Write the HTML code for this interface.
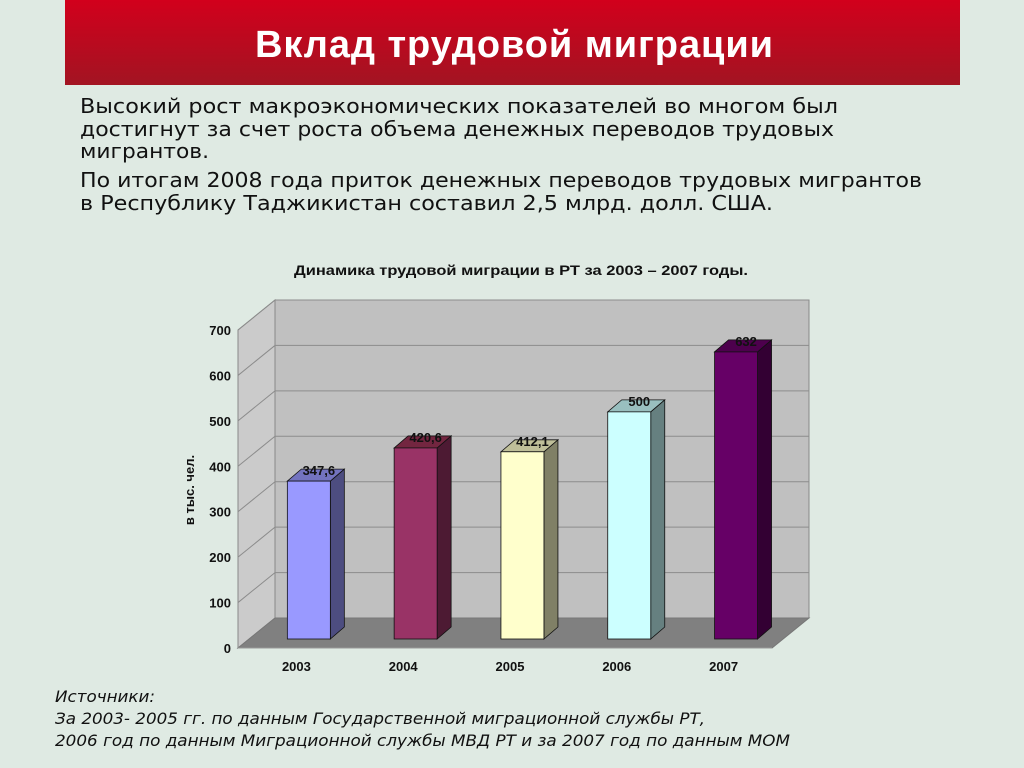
<!DOCTYPE html>
<html><head><meta charset="utf-8"><style>
html,body{margin:0;padding:0;background:#dfeae3}
svg{display:block}
</style></head><body>
<svg width="1024" height="768" viewBox="0 0 1024 768" xmlns="http://www.w3.org/2000/svg">
<defs><linearGradient id="hg" x1="0" y1="0" x2="0" y2="1"><stop offset="0" stop-color="#d2001c"/><stop offset="1" stop-color="#a21422"/></linearGradient></defs>
<rect width="1024" height="768" fill="#dfeae3"/>
<rect x="65" y="0" width="895" height="85" fill="url(#hg)"/>
<text x="514" y="57" text-anchor="middle" font-family="Liberation Sans, sans-serif" font-weight="bold" font-size="38" fill="#fff" textLength="518">Вклад трудовой миграции</text>
<g font-family="DejaVu Sans, Liberation Sans, sans-serif" font-size="20" fill="#111">
<text x="80" y="113" textLength="758" lengthAdjust="spacingAndGlyphs">Высокий рост макроэкономических показателей во многом был</text>
<text x="80" y="136" textLength="754" lengthAdjust="spacingAndGlyphs">достигнут за счет роста объема денежных переводов трудовых</text>
<text x="80" y="158" textLength="129" lengthAdjust="spacingAndGlyphs">мигрантов.</text>
<text x="80" y="187" textLength="842" lengthAdjust="spacingAndGlyphs">По итогам 2008 года приток денежных переводов трудовых мигрантов</text>
<text x="80" y="210" textLength="693" lengthAdjust="spacingAndGlyphs">в Республику Таджикистан составил 2,5 млрд. долл. США.</text>
</g>
<text x="521" y="275" text-anchor="middle" font-family="Liberation Sans, sans-serif" font-weight="bold" font-size="14" fill="#111" textLength="454" lengthAdjust="spacingAndGlyphs">Динамика трудовой миграции в РТ за 2003 – 2007 годы.</text>
<g id="chart"></g>
<text transform="translate(194,490) rotate(-90)" text-anchor="middle" font-family="Liberation Sans, sans-serif" font-weight="bold" font-size="13" fill="#111">в тыс. чел.</text>
<g font-family="DejaVu Sans, Liberation Sans, sans-serif" font-style="italic" font-size="16" fill="#111">
<text x="55" y="702" textLength="100" lengthAdjust="spacingAndGlyphs">Источники:</text>
<text x="55" y="724" textLength="650" lengthAdjust="spacingAndGlyphs">За 2003- 2005 гг. по данным Государственной миграционной службы РТ,</text>
<text x="55" y="746" textLength="735" lengthAdjust="spacingAndGlyphs">2006 год по данным Миграционной службы МВД РТ и за 2007 год по данным МОМ</text>
</g>
</svg>
<script>
const categories = ["2003","2004","2005","2006","2007"];
const values = [347.6, 420.6, 412.1, 500, 632];
const valueLabels = ["347,6","420,6","412,1","500","632"];
const yTicks = [0,100,200,300,400,500,600,700];
const frontColors = ["#9999ff","#993366","#ffffcc","#ccffff","#660066"];
const sideColors = ["#4d4d80","#4d1a33","#808066","#668080","#330033"];
const topColors = ["#7373bf","#732640","#bfbf99","#99bfbf","#4d004d"];

const NS="http://www.w3.org/2000/svg";
const g=document.getElementById('chart');
const yMax=700, pxPer=(648-330)/yMax;
const DX=37, DY=-30;           // wall depth
const yFront=v=>648-v*pxPer;
const xLeft=238, xRight=772, slot=(xRight-xLeft)/categories.length;
function mk(tag,attrs){const e=document.createElementNS(NS,tag);for(const k in attrs)e.setAttribute(k,attrs[k]);g.appendChild(e);return e;}
// back wall
let e=mk('rect',{x:xLeft+DX,y:yFront(yMax)+DY,width:xRight-xLeft,height:yMax*pxPer,fill:'#c0c0c0',stroke:'#888'});


// side wall
e=mk('polygon',{points:`${xLeft},${yFront(0)} ${xLeft+DX},${yFront(0)+DY} ${xLeft+DX},${yFront(yMax)+DY} ${xLeft},${yFront(yMax)}`,fill:'#cbcbcb',stroke:'#888'});


// floor
e=mk('polygon',{points:`${xLeft},${yFront(0)} ${xRight},${yFront(0)} ${xRight+DX},${yFront(0)+DY} ${xLeft+DX},${yFront(0)+DY}`,fill:'#808080',stroke:'#777'});


// gridlines & ticks
yTicks.forEach(t=>{
  if(t>0){
    const l=mk('polyline',{points:`${xLeft},${yFront(t)} ${xLeft+DX},${yFront(t)+DY} ${xRight+DX},${yFront(t)+DY}`,fill:'none',stroke:'#8c8c8c','stroke-width':1});
    
    
  }
  const tx=mk('text',{x:231,y:yFront(t)+5,'text-anchor':'end','font-family':'Liberation Sans, sans-serif','font-weight':'bold','font-size':13,fill:'#111'});
  tx.textContent=t;
  
  
});
mk('line',{x1:xLeft,y1:yFront(0),x2:xRight,y2:yFront(0),stroke:'#999'});
// bars
const BW=43, BDX=14, BDY=-12, barBase=yFront(0)-9;
categories.forEach((c,i)=>{
  const x=xLeft+DX*0.12+i*slot+(slot-BW)/2+18-5;
  const h=values[i]*pxPer, top=barBase-h;
  const side=mk('polygon',{points:`${x+BW},${barBase} ${x+BW+BDX},${barBase+BDY} ${x+BW+BDX},${top+BDY} ${x+BW},${top}`,fill:sideColors[i],stroke:'#111','stroke-width':0.8});
  
  
  const tp=mk('polygon',{points:`${x},${top} ${x+BW},${top} ${x+BW+BDX},${top+BDY} ${x+BDX},${top+BDY}`,fill:topColors[i],stroke:'#111','stroke-width':0.8});
  
  
  const fr=mk('rect',{x:x,y:top,width:BW,height:h,fill:frontColors[i],stroke:'#111','stroke-width':0.8});
  
  
  const vl=mk('text',{x:x+BW/2+10,y:top-6,'text-anchor':'middle','font-family':'Liberation Sans, sans-serif','font-weight':'bold','font-size':13,fill:'#111'});
  vl.textContent=valueLabels[i];
  
  
  const cl=mk('text',{x:xLeft+i*slot+slot/2+5,y:671,'text-anchor':'middle','font-family':'Liberation Sans, sans-serif','font-weight':'bold','font-size':13,fill:'#111'});
  cl.textContent=c;
  
  
});
</script>
</body></html>
